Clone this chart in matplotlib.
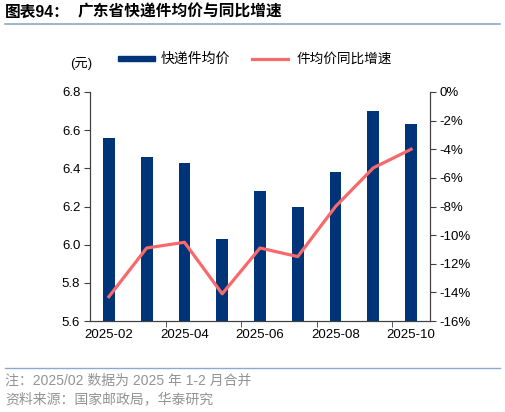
import matplotlib
matplotlib.use("Agg")
import matplotlib.pyplot as plt
from matplotlib.lines import Line2D
from matplotlib.patches import Rectangle

plt.rcParams['font.family'] = ['Liberation Sans', 'Noto Sans CJK SC', 'DejaVu Sans']

months = ["2025-02", "2025-03", "2025-04", "2025-05", "2025-06",
          "2025-07", "2025-08", "2025-09", "2025-10"]
avg_price = [6.56, 6.46, 6.43, 6.03, 6.28, 6.20, 6.38, 6.70, 6.63]
yoy_growth = [-14.3, -10.9, -10.5, -14.1, -10.9, -11.5, -8.0, -5.3, -4.0]
left_ticks = [5.6, 5.8, 6.0, 6.2, 6.4, 6.6, 6.8]
right_ticks = [0, -2, -4, -6, -8, -10, -12, -14, -16]

bar_color = "#003478"
line_color = "#F8696B"
cjk = ['Liberation Sans', 'Noto Sans CJK SC', 'DejaVu Sans']

fig = plt.figure(figsize=(5.05, 4.12), dpi=100)
ax = fig.add_axes([90/505, 1-321/412, 340/505, 229/412])
x = list(range(len(months)))
ax.bar(x, avg_price, width=0.31, color=bar_color, zorder=2)
ax.set_ylim(5.6, 6.8)
ax.set_xlim(-0.5, len(months)-0.5)
ax.set_yticks(left_ticks)
ax.set_yticklabels([f"{v:.1f}" for v in left_ticks], fontsize=9.5)
ax.set_xticks(x[::2])
ax.set_xticklabels(months[::2], fontsize=9.5)
ax.tick_params(axis='x', length=0, pad=6)
ax.set_xticks([1.5, 3.5, 5.5, 7.5], minor=True)
ax.tick_params(axis='x', which='minor', length=4, direction='out', color='#404040')
ax.tick_params(axis='y', length=4, direction='out', color='#404040', pad=3)
ax.spines['top'].set_visible(False)
for s in ['left', 'right', 'bottom']:
    ax.spines[s].set_color('#404040')
    ax.spines[s].set_linewidth(0.8)

ax2 = ax.twinx()
ax2.plot(x, yoy_growth, color=line_color, linewidth=2.3, zorder=3)
ax2.set_ylim(-16, 0)
ax2.set_yticks(right_ticks)
ax2.set_yticklabels([f"{v}%" for v in right_ticks], fontsize=9.5)
ax2.tick_params(axis='y', length=4, direction='out', color='#404040', pad=3)
ax2.spines['top'].set_visible(False)
for s in ['left', 'right', 'bottom']:
    ax2.spines[s].set_color('#404040')
    ax2.spines[s].set_linewidth(0.8)

# title
fig.text(5/505, 1-12/412, "图表94：", fontsize=11.3,
         fontweight='bold', family=cjk, va='center', ha='left')
fig.text(78/505, 1-12/412, "广东省快递件均价与同比增速", fontsize=11.3,
         fontweight='bold', family=cjk, va='center', ha='left')
fig.add_artist(Line2D([5/505, 500/505], [1-24/412, 1-24/412], color='#8EA9C9', linewidth=1.2))

# legend
fig.text(70/505, 1-64/412, "(元)", fontsize=9.5, family=cjk, va='center', ha='left')
fig.add_artist(Rectangle((118/505, 1-61/412), 37/505, 5/412, color=bar_color, transform=fig.transFigure))
fig.text(161/505, 1-59/412, "快递件均价", fontsize=10, family=cjk, va='center', ha='left')
fig.add_artist(Line2D([252/505, 288/505], [1-59/412, 1-59/412], color=line_color, linewidth=2.3))
fig.text(297/505, 1-59/412, "件均价同比增速", fontsize=9.8, family=cjk, va='center', ha='left')

# footer
fig.add_artist(Line2D([5/505, 500/505], [1-368/412, 1-368/412], color='#8EA9C9', linewidth=1.0))
fig.text(5/505, 1-381/412, "注：2025/02 数据为 2025 年 1-2 月合并", fontsize=10,
         family=cjk, color='#939393', va='center', ha='left')
fig.text(5/505, 1-399/412, "资料来源：国家邮政局，华泰研究", fontsize=10,
         family=cjk, color='#939393', va='center', ha='left')

fig.savefig("out.png", dpi=100)
